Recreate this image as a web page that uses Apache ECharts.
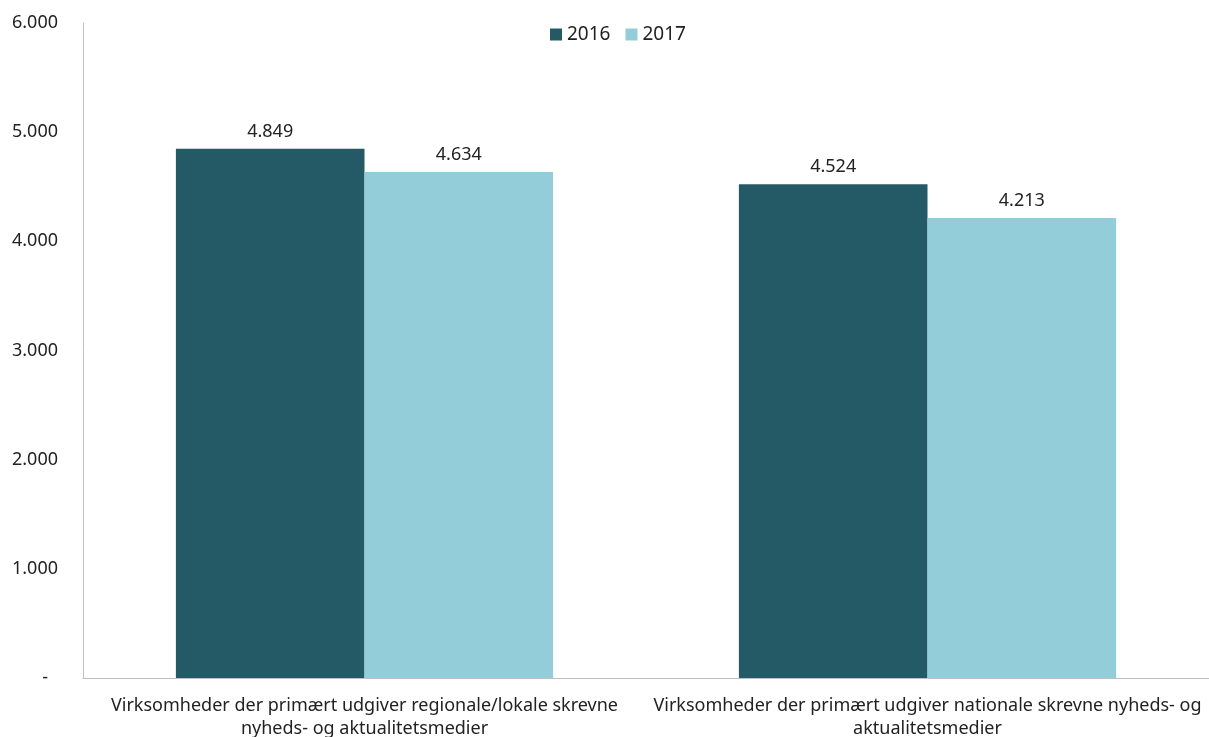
<!DOCTYPE html>
<html>
<head>
<meta charset="utf-8">
<script src="https://cdn.jsdelivr.net/npm/echarts@6/dist/echarts.min.js"></script>
<style>
  html, body { margin: 0; padding: 0; background: #fff; }
  #chart { width: 1209px; height: 737px; }
</style>
</head>
<body>
<div id="chart"></div>
<script>
// Categories (line breaks as printed under the axis)
const categories = [
  'Virksomheder der primært udgiver regionale/lokale skrevne\nnyheds- og aktualitetsmedier',
  'Virksomheder der primært udgiver nationale skrevne nyheds- og\naktualitetsmedier'
];
const seriesNames = ['2016', '2017'];
const values2016 = [4849, 4524];
const values2017 = [4634, 4213];
const yTicks = { min: 0, max: 6000, interval: 1000 };

const FONT = '"Noto Sans", sans-serif';
const fmtNum = v => v === 0 ? '-' : v.toLocaleString('da-DK');

const chart = echarts.init(document.getElementById('chart'));
chart.setOption({
  animation: false,
  textStyle: { fontFamily: FONT },
  legend: {
    top: 20,
    left: 545,
    itemWidth: 12,
    itemHeight: 12,
    itemGap: 15,
    icon: 'rect',
    textStyle: { fontSize: 19, color: '#222', fontFamily: FONT },
    data: seriesNames
  },
  grid: { left: 83, right: 0, top: 23, bottom: 59, containLabel: false, outerBoundsMode: 'none' },
  xAxis: {
    type: 'category',
    data: categories,
    axisLine: { lineStyle: { color: '#BFBFBF', width: 1 } },
    axisTick: { show: false },
    axisLabel: { color: '#222', fontSize: 18, lineHeight: 23, margin: 16, interval: 0, fontFamily: FONT }
  },
  yAxis: {
    type: 'value',
    min: yTicks.min,
    max: yTicks.max,
    interval: yTicks.interval,
    axisLine: { show: true, lineStyle: { color: '#BFBFBF', width: 1 } },
    axisTick: { show: false },
    splitLine: { show: false },
    axisLabel: {
      color: '#222',
      fontSize: 18,
      margin: 25,
      fontFamily: FONT,
      formatter: v => v === 0 ? '{z|-}' : fmtNum(v),
      rich: { z: { fontSize: 18, padding: [0, 10, 0, 0], color: '#222' } }
    }
  },
  series: [
    {
      name: seriesNames[0],
      type: 'bar',
      data: values2016,
      barGap: '0%',
      barCategoryGap: '33%',
      itemStyle: { color: '#235A66' },
      label: { show: true, position: 'top', distance: 8, color: '#222', fontSize: 18, fontFamily: FONT, formatter: p => fmtNum(p.value) }
    },
    {
      name: seriesNames[1],
      type: 'bar',
      data: values2017,
      itemStyle: { color: '#94CDDA' },
      label: { show: true, position: 'top', distance: 8, color: '#222', fontSize: 18, fontFamily: FONT, formatter: p => fmtNum(p.value) }
    }
  ]
});
</script>
</body>
</html>
